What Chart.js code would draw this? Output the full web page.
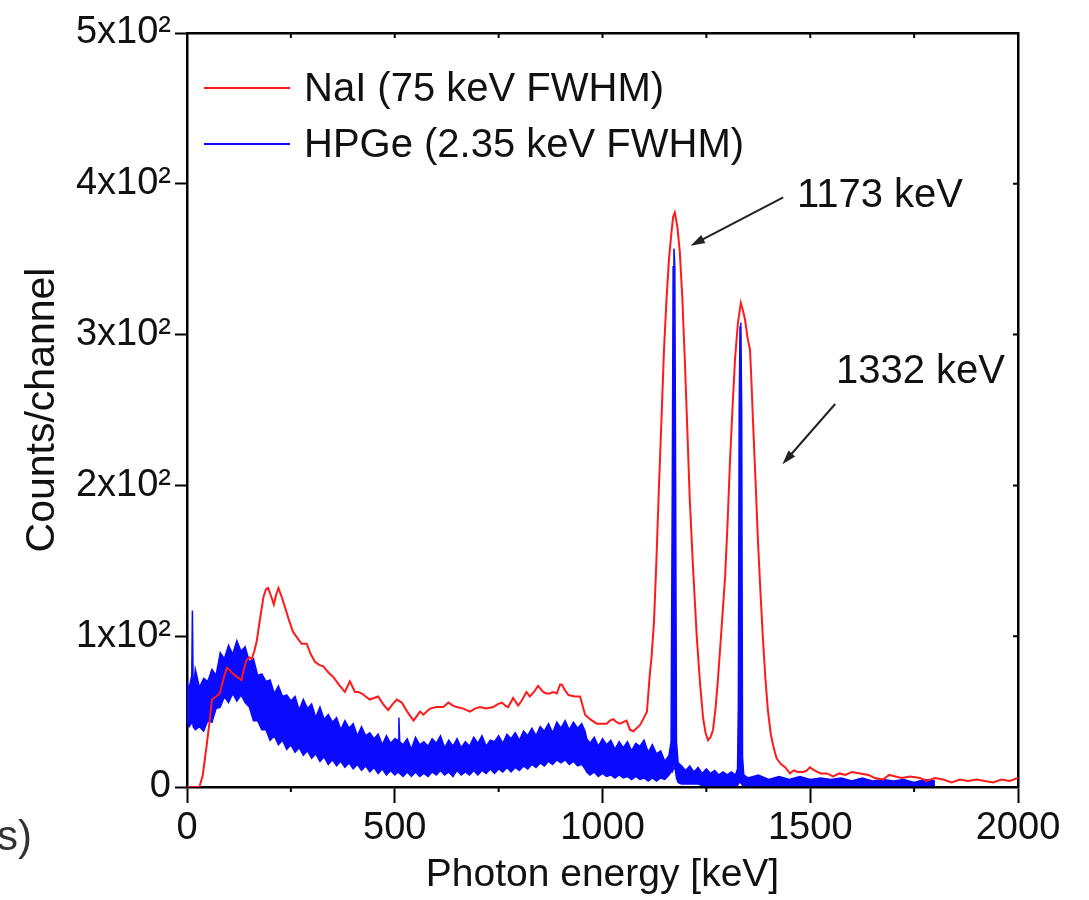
<!DOCTYPE html>
<html>
<head>
<meta charset="utf-8">
<title>NaI vs HPGe spectrum</title>
<script src="https://cdn.jsdelivr.net/npm/chart.js@4.4.0/dist/chart.umd.min.js"></script>
<style>
    html, body { margin: 0; padding: 0; background: #fff; }
    #wrap { position: relative; width: 1089px; height: 900px; overflow: hidden; }
    #fragment {
        position: absolute; left: -3px; top: 812px;
        font-family: 'Liberation Sans', Arial, sans-serif;
        font-size: 42px; color: #333;
    }
</style>
</head>
<body>
<div id="wrap">
    <canvas id="spectrum-chart" width="1089" height="900"></canvas>
    <div id="fragment">s)</div>
</div>
<script>
// NaI(Tl) spectrum (red)
const nalEnergy = [0, 10, 20, 30, 38, 47, 55, 60, 70, 79, 88, 96, 104, 111, 120, 131, 137, 143, 150, 156,
    162, 168, 176, 184, 190, 195, 202, 209, 214, 220, 228, 236, 245, 255, 265, 276, 288, 298, 308, 318,
    328, 340, 352, 365, 380, 392, 404, 412, 421, 430, 440, 450, 460, 472, 484, 495, 505, 517, 530, 545,
    553, 561, 569, 577, 585, 600, 617, 629, 640, 649, 665, 681, 693, 705, 720, 737, 748, 758, 766, 773,
    785, 797, 805, 817, 825, 835, 845, 857, 865, 873, 882, 890, 898, 902, 910, 918, 934, 946, 958, 970,
    986, 1000, 1010, 1018, 1026, 1034, 1042, 1050, 1058, 1066, 1074, 1082, 1090, 1098, 1107, 1114, 1118, 1124, 1130, 1136,
    1142, 1148, 1154, 1160, 1166, 1170, 1174, 1180, 1186, 1192, 1198, 1204, 1210, 1218, 1227, 1235, 1242, 1248, 1254, 1260,
    1266, 1272, 1278, 1286, 1295, 1301, 1307, 1313, 1319, 1326, 1333, 1338, 1343, 1349, 1355, 1358, 1362, 1368, 1374, 1380,
    1386, 1392, 1398, 1405, 1412, 1419, 1430, 1440, 1451, 1460, 1470, 1483, 1492, 1499, 1510, 1525, 1540, 1555, 1570, 1585,
    1600, 1620, 1640, 1655, 1675, 1690, 1705, 1720, 1740, 1764, 1780, 1800, 1820, 1840, 1860, 1880, 1900, 1920, 1940, 1960,
    1980, 2000];
const nalCounts = [0, 0, 0, 0, 8, 27, 45, 58, 60, 62, 72, 79, 77, 75, 73, 71, 78, 84, 86, 85,
    90, 97, 112, 126, 131, 132, 127, 121, 127, 132, 126, 119, 111, 103, 99, 95, 95, 88, 83, 81,
    80, 76, 73, 68, 63, 70, 63, 63, 62, 60, 58, 59, 60, 55, 51, 55, 58, 56, 50, 44,
    47, 50, 48, 50, 52, 53, 53, 56, 54, 53, 52, 50, 52, 53, 52, 53, 55, 56, 54, 53,
    59, 54, 57, 63, 60, 63, 67, 63, 62, 62, 63, 62, 68, 68, 64, 61, 60, 60, 48, 45,
    42, 42, 42, 44, 45, 43, 42, 43, 44, 38, 37, 39, 41, 45, 50, 75, 86, 110, 152, 200,
    244, 290, 323, 350, 368, 378, 381, 372, 355, 325, 284, 238, 191, 145, 99, 68, 46, 36, 31, 33,
    38, 52, 72, 103, 139, 175, 217, 252, 284, 308, 321, 316, 310, 298, 290, 272, 244, 205, 164, 130,
    99, 72, 51, 35, 26, 19, 15, 13, 9, 11, 10, 10, 11, 13, 11, 9, 9, 7, 9, 8,
    10, 9, 8, 6, 5, 8, 7, 6, 7, 6, 4, 6, 5, 3, 5, 4, 5, 4, 3, 5,
    4, 6];

// HPGe spectrum (blue): the noisy trace is a dense band, kept as its upper and lower edge
const hpgeEnergy = [0, 5, 10, 11, 13, 15, 20, 30, 40, 50, 60, 70, 80, 90, 100, 110, 120, 130, 140, 150,
    160, 170, 180, 190, 200, 210, 220, 230, 240, 250, 260, 270, 280, 290, 300, 310, 320, 330, 340, 350,
    360, 370, 380, 390, 400, 410, 420, 430, 440, 450, 460, 470, 480, 490, 500, 508, 510, 512, 520, 530,
    540, 550, 560, 570, 580, 590, 600, 610, 620, 630, 640, 650, 660, 670, 680, 690, 700, 710, 720, 730,
    740, 750, 760, 770, 780, 790, 800, 810, 820, 830, 840, 850, 860, 870, 880, 890, 900, 910, 920, 930,
    940, 950, 958, 962, 970, 980, 990, 1000, 1010, 1020, 1030, 1040, 1050, 1060, 1070, 1080, 1090, 1100, 1110, 1120,
    1130, 1140, 1150, 1160, 1165, 1168, 1170, 1172, 1174, 1176, 1178, 1182, 1190, 1200, 1210, 1220, 1230, 1240, 1250, 1260,
    1270, 1280, 1290, 1300, 1310, 1320, 1325, 1327, 1329, 1331, 1333, 1335, 1337, 1340, 1350, 1375, 1400, 1425, 1450, 1475,
    1500, 1525, 1550, 1575, 1600, 1625, 1650, 1675, 1700, 1725, 1750, 1775, 1800];
const hpgeUpper = [70, 65, 72, 60, 117, 62, 78, 66, 72, 70, 78, 74, 89, 85, 94, 88, 97, 90, 93, 83,
    85, 74, 75, 70, 71, 62, 67, 60, 61, 57, 60, 51, 58, 52, 55, 46, 53, 45, 48, 43,
    46, 38, 44, 39, 42, 34, 40, 34, 36, 32, 35, 28, 34, 29, 32, 31, 46, 30, 28, 32,
    25, 33, 28, 30, 27, 32, 29, 34, 26, 31, 27, 32, 26, 30, 27, 33, 29, 34, 27, 31,
    30, 34, 29, 35, 32, 36, 31, 37, 34, 39, 34, 40, 37, 42, 36, 43, 39, 44, 38, 43,
    39, 42, 37, 32, 29, 33, 27, 32, 28, 31, 25, 30, 26, 30, 24, 29, 27, 31, 23, 28,
    22, 24, 17, 21, 30, 200, 345, 357, 345, 200, 30, 16, 14, 11, 14, 10, 13, 9, 12, 9,
    11, 8, 10, 8, 10, 8, 12, 55, 250, 305, 308, 250, 20, 8, 6, 8, 5, 7, 5, 7,
    5, 6, 5, 6, 4, 6, 4, 5, 4, 5, 3, 5, 4];
const hpgeLower = [45, 40, 42, 42, 44, 40, 38, 40, 37, 44, 43, 52, 53, 60, 56, 62, 57, 61, 56, 53,
    44, 44, 38, 38, 31, 34, 28, 31, 25, 28, 23, 26, 21, 24, 19, 22, 17, 20, 15, 18,
    14, 17, 13, 16, 12, 15, 11, 14, 10, 13, 9, 12, 8, 11, 8, 10, 10, 9, 7, 10,
    7, 10, 7, 9, 7, 10, 8, 11, 8, 10, 7, 11, 8, 10, 8, 11, 8, 11, 9, 12,
    9, 12, 10, 13, 10, 13, 11, 14, 12, 15, 13, 16, 14, 17, 15, 18, 16, 18, 15, 17,
    14, 15, 12, 10, 8, 10, 7, 9, 7, 8, 6, 8, 6, 7, 5, 7, 5, 6, 4, 6,
    4, 6, 5, 8, 10, 10, 12, 15, 15, 10, 6, 3, 2, 2, 2, 2, 2, 1, 1, 1,
    1, 1, 1, 1, 1, 1, 1, 2, 3, 3, 3, 2, 1, 1, 1, 1, 1, 1, 1, 1,
    1, 1, 1, 1, 1, 1, 1, 1, 1, 1, 1, 1, 1];

const seriesLabels = ['NaI (75 keV FWHM)', 'HPGe (2.35 keV FWHM)'];
const seriesColors = ['#ff1a1a', '#0a0aff'];
const xTickLabels = { 0: '0', 500: '500', 1000: '1000', 1500: '1500', 2000: '2000' };
const yTickLabels = { 0: '0', 100: '1x10\u00b2', 200: '2x10\u00b2', 300: '3x10\u00b2', 400: '4x10\u00b2', 500: '5x10\u00b2' };
const xMinorTicks = [250, 750, 1250, 1750];
const topTicks = [250, 500, 750, 1000, 1250, 1500, 1750];
const rightTicks = [100, 200, 300, 400];

// peak annotations, in data units (keV, counts)
const peakLabels = ['1173 keV', '1332 keV'];
const labelAt = [[1468, 392], [1562, 275]];
const arrowFrom = [[1435, 391], [1560, 254]];
const arrowTo = [[1212, 359], [1433, 214]];

const FONT = "'Liberation Sans', Arial, sans-serif";

function toPoints(xs, ys) {
    const n = Math.min(xs.length, ys.length);
    const pts = [];
    for (let i = 0; i < n; i++) pts.push({ x: xs[i], y: ys[i] });
    return pts;
}

const overlayPlugin = {
    id: 'overlay',
    afterDraw(chart) {
        const { ctx, chartArea } = chart;
        const x = chart.scales.x;
        const y = chart.scales.y;
        ctx.save();

        // extra ticks: minor outward on bottom, inward mirrors on top / right
        ctx.strokeStyle = '#000';
        ctx.lineWidth = 2;
        ctx.beginPath();
        xMinorTicks.forEach(v => {
            const px = x.getPixelForValue(v);
            ctx.moveTo(px, chartArea.bottom);
            ctx.lineTo(px, chartArea.bottom + 5);
        });
        topTicks.forEach(v => {
            const px = x.getPixelForValue(v);
            ctx.moveTo(px, chartArea.top);
            ctx.lineTo(px, chartArea.top + 5);
        });
        rightTicks.forEach(v => {
            const py = y.getPixelForValue(v);
            ctx.moveTo(chartArea.right, py);
            ctx.lineTo(chartArea.right - 5, py);
        });
        ctx.stroke();

        // legend
        ctx.font = '40px ' + FONT;
        ctx.textBaseline = 'middle';
        ctx.textAlign = 'left';
        seriesLabels.forEach((label, i) => {
            const ly = chartArea.top + 55 + i * 56;
            ctx.strokeStyle = seriesColors[i];
            ctx.lineWidth = 2;
            ctx.beginPath();
            ctx.moveTo(chartArea.left + 17, ly);
            ctx.lineTo(chartArea.left + 103, ly);
            ctx.stroke();
            ctx.fillStyle = '#111';
            ctx.fillText(label, chartArea.left + 117, ly + 2);
        });

        // peak labels and arrows
        ctx.font = '40px ' + FONT;
        peakLabels.forEach((label, i) => {
            ctx.fillStyle = '#111';
            ctx.fillText(label, x.getPixelForValue(labelAt[i][0]), y.getPixelForValue(labelAt[i][1]));

            const x0 = x.getPixelForValue(arrowFrom[i][0]);
            const y0 = y.getPixelForValue(arrowFrom[i][1]);
            const x1 = x.getPixelForValue(arrowTo[i][0]);
            const y1 = y.getPixelForValue(arrowTo[i][1]);
            const ang = Math.atan2(y1 - y0, x1 - x0);
            const head = 15;
            ctx.strokeStyle = '#222';
            ctx.lineWidth = 2;
            ctx.beginPath();
            ctx.moveTo(x0, y0);
            ctx.lineTo(x1 - Math.cos(ang) * head * 0.8, y1 - Math.sin(ang) * head * 0.8);
            ctx.stroke();
            ctx.fillStyle = '#222';
            ctx.beginPath();
            ctx.moveTo(x1, y1);
            ctx.lineTo(x1 - head * Math.cos(ang - 0.3), y1 - head * Math.sin(ang - 0.3));
            ctx.lineTo(x1 - head * Math.cos(ang + 0.3), y1 - head * Math.sin(ang + 0.3));
            ctx.closePath();
            ctx.fill();
        });
        ctx.restore();
    }
};

function renderSpectrum() {
    const ctx = document.getElementById('spectrum-chart');

    new Chart(ctx, {
        type: 'line',
        data: {
            datasets: [{
                label: seriesLabels[0],
                data: toPoints(nalEnergy, nalCounts),
                borderColor: seriesColors[0],
                borderWidth: 2,
                pointRadius: 0,
                tension: 0,
                fill: false
            }, {
                label: seriesLabels[1],
                data: toPoints(hpgeEnergy, hpgeUpper),
                borderColor: seriesColors[1],
                backgroundColor: seriesColors[1],
                borderWidth: 1.5,
                pointRadius: 0,
                tension: 0,
                fill: '+1'
            }, {
                label: 'HPGe lower',
                data: toPoints(hpgeEnergy, hpgeLower),
                borderColor: seriesColors[1],
                borderWidth: 1.5,
                pointRadius: 0,
                tension: 0,
                fill: false
            }]
        },
        options: {
            responsive: false,
            animation: false,
            layout: {
                padding: { left: 0, top: 33, right: 71, bottom: 0 }
            },
            plugins: {
                legend: { display: false },
                tooltip: { enabled: false }
            },
            scales: {
                x: {
                    type: 'linear',
                    position: 'bottom',
                    min: 0,
                    max: 2000,
                    afterFit: (scale) => { scale.height = 113; },
                    ticks: {
                        stepSize: 500,
                        color: '#111',
                        font: { family: FONT, size: 38 },
                        padding: 3,
                        maxRotation: 0,
                        callback: (value) => xTickLabels[value]
                    },
                    grid: {
                        drawOnChartArea: false,
                        tickLength: 16,
                        tickWidth: 2,
                        tickColor: '#000'
                    },
                    border: { color: '#000', width: 2.5 },
                    title: {
                        display: true,
                        text: 'Photon energy [keV]',
                        color: '#111',
                        font: { family: FONT, size: 39 },
                        padding: { top: 0, bottom: 1 }
                    }
                },
                y: {
                    type: 'linear',
                    position: 'left',
                    min: 0,
                    max: 500,
                    afterFit: (scale) => { scale.width = 187; },
                    ticks: {
                        stepSize: 100,
                        color: '#111',
                        font: { family: FONT, size: 38 },
                        padding: 4,
                        callback: (value) => yTickLabels[value]
                    },
                    grid: {
                        drawOnChartArea: false,
                        tickLength: 12,
                        tickWidth: 2,
                        tickColor: '#000'
                    },
                    border: { color: '#000', width: 2.5 },
                    title: {
                        display: true,
                        text: 'Counts/channel',
                        color: '#111',
                        font: { family: FONT, size: 41 },
                        padding: { top: 18, bottom: 0 }
                    }
                },
                x2: {
                    type: 'linear',
                    position: 'top',
                    min: 0,
                    max: 2000,
                    afterFit: (scale) => { scale.height = 0; },
                    ticks: { display: false },
                    grid: { display: false },
                    border: { display: true, color: '#000', width: 2.5 }
                },
                y2: {
                    type: 'linear',
                    position: 'right',
                    min: 0,
                    max: 500,
                    afterFit: (scale) => { scale.width = 0; },
                    ticks: { display: false },
                    grid: { display: false },
                    border: { display: true, color: '#000', width: 2.5 }
                }
            }
        },
        plugins: [overlayPlugin]
    });
}

document.addEventListener('DOMContentLoaded', () => {
    renderSpectrum();
});
</script>
</body>
</html>
